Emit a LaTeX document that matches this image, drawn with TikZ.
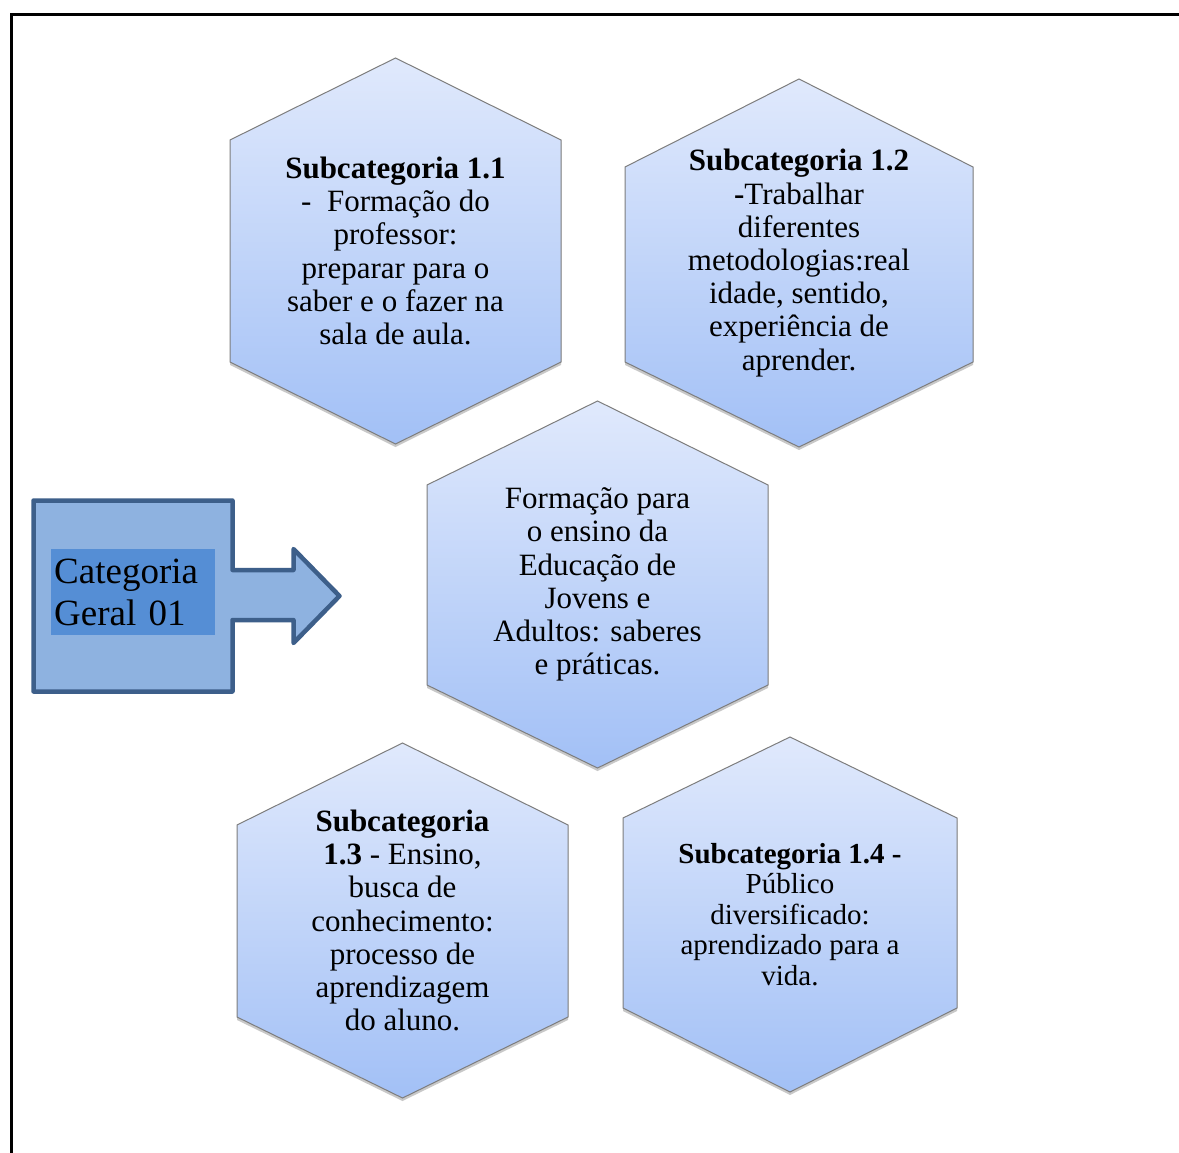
\documentclass[tikz,border=0pt]{standalone}
\usepackage{fontspec}
\setmainfont{Liberation Serif}
\usetikzlibrary{shadows}
\definecolor{hextop}{RGB}{224,233,252}
\definecolor{hexbot}{RGB}{162,192,246}
\definecolor{hexline}{RGB}{125,125,125}
\definecolor{catfill}{RGB}{142,178,224}
\definecolor{catline}{RGB}{61,95,138}
\definecolor{catboxfill}{RGB}{85,142,213}
\tikzset{
  hexshape/.style={draw=hexline, line width=1pt, top color=hextop, bottom color=hexbot,
    drop shadow={shadow xshift=0pt, shadow yshift=-3pt, opacity=0.3, fill=black!70}},
  hextext/.style={align=center, font=\fontsize{31}{33.2}\selectfont, inner sep=0pt},
  hextextsmall/.style={align=center, font=\fontsize{29}{30.5}\selectfont, inner sep=0pt},
  frameline/.style={line width=3pt, black},
  callout/.style={draw=catline, line width=4.5pt, fill=catfill, line join=round},
}
% name, left x, right x, top y, upper side y, lower side y, bottom y
\newcommand\hexpath[7]{%
  \path[hexshape] ({(#2+#3)/2},#4) -- (#3,#5) -- (#3,#6) -- ({(#2+#3)/2},#7)
     -- (#2,#6) -- (#2,#5) -- cycle;
  \coordinate (#1) at ({(#2+#3)/2},{(#4+#7)/2});
}
\begin{document}
\begin{tikzpicture}[x=1pt,y=-1pt]
\useasboundingbox (0,0) rectangle (1179,1153);
\fill[white] (0,0) rectangle (1179,1153);
% frame
\draw[frameline] (11.5,1160) -- (11.5,14.5) -- (1190,14.5);

% hexagons
\hexpath{h11}{230}{561}{58}{140}{362}{444}
\hexpath{h12}{625}{973}{79}{167}{362}{447}
\hexpath{hc}{427}{768}{401}{485}{685}{768}
\hexpath{h13}{237}{568}{743}{825}{1017}{1098}
\hexpath{h14}{623}{957}{737}{818}{1008}{1092}

\node[hextext] (t11) at (h11) {\textbf{Subcategoria 1.1}\\-\ \ Formação do\\professor:\\preparar para o\\saber e o fazer na\\sala de aula.};
\node[hextext] (t12) at (h12) {\textbf{Subcategoria 1.2}\\\textbf{-}Trabalhar\\diferentes\\metodologias:real\\idade, sentido,\\experiência de\\aprender.};
\node[hextext] (tc) at (hc) {Formação para\\o ensino da\\Educação de\\Jovens e\\Adultos: saberes\\e práticas.};
\node[hextext] (t13) at (h13) {\textbf{Subcategoria}\\\textbf{1.3} - Ensino,\\busca de\\conhecimento:\\processo de\\aprendizagem\\do aluno.};
\node[hextextsmall] (t14) at (h14) {\textbf{Subcategoria 1.4 -}\\Público\\diversificado:\\aprendizado para a\\vida.};

% category callout
\draw[callout] (33.5,500.5) -- (232.5,500.5) -- (232.5,570) -- (293.5,570) -- (293.5,549)
  -- (339.5,596) -- (293.5,643) -- (293.5,620) -- (232.5,620) -- (232.5,691.5)
  -- (33.5,691.5) -- cycle;
\node[fill=catboxfill, anchor=north west, minimum width=164pt, minimum height=86pt,
  text width=158pt, inner xsep=3pt, inner ysep=0pt, align=left,
  font=\fontsize{37}{42}\selectfont] (cat) at (51,549) {Categoria\\Geral 01};
\end{tikzpicture}
\end{document}
